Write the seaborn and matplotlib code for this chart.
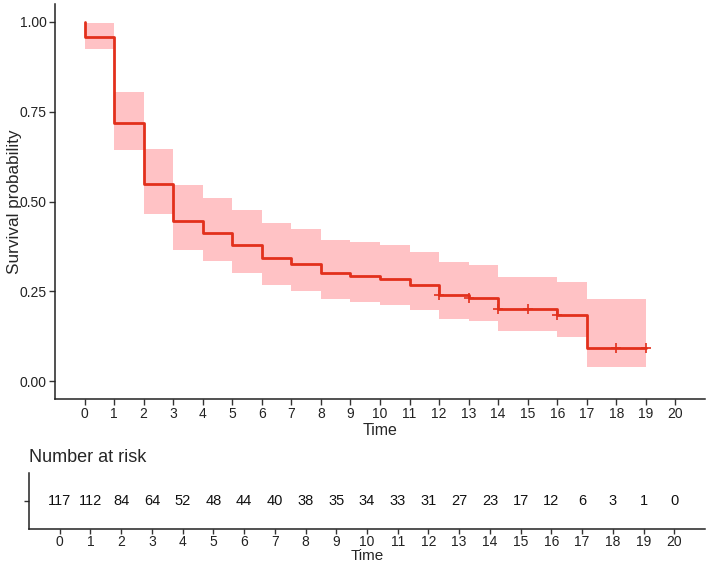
import matplotlib
matplotlib.use("Agg")
import matplotlib.pyplot as plt
import seaborn as sns
import numpy as np
import pandas as pd

# ---- data ----
interval_start = [0, 1, 2, 3, 4, 5, 6, 7, 8, 9, 10, 11, 12, 13, 14, 15, 16, 17, 18, 19]
surv = [0.958, 0.719, 0.550, 0.445, 0.412, 0.379, 0.343, 0.327, 0.301, 0.292,
        0.285, 0.267, 0.241, 0.232, 0.202, 0.202, 0.185, 0.093, 0.093, 0.093]
upper = [0.996, 0.805, 0.645, 0.545, 0.511, 0.476, 0.440, 0.423, 0.394, 0.387,
         0.378, 0.359, 0.331, 0.322, 0.291, 0.291, 0.276, 0.228, 0.228, 0.228]
lower = [0.924, 0.643, 0.466, 0.365, 0.333, 0.300, 0.267, 0.252, 0.229, 0.220,
         0.213, 0.198, 0.174, 0.167, 0.139, 0.139, 0.124, 0.039, 0.039, 0.039]
censor_times = [12, 13, 14, 15, 16, 18, 19]
risk_times = list(range(0, 21))
n_at_risk = [117, 112, 84, 64, 52, 48, 44, 40, 38, 35, 34, 33, 31, 27, 23, 17, 12, 6, 3, 1, 0]

line_color = "#E2301C"
fill_color = "#FFC2C5"

sns.set_style("white")
plt.rcParams["font.family"] = ["Liberation Sans", "DejaVu Sans"]

fig = plt.figure(figsize=(7.08, 5.65), dpi=100)
ax = fig.add_axes([55 / 708, 1 - 399 / 565, 650 / 708, 395 / 565])
ax2 = fig.add_axes([29 / 708, 1 - 529 / 565, 676 / 708, 56 / 565])

# step curve data (start at 1.0 at t=0, then immediate drop)
curve = pd.DataFrame({
    "time": [0] + interval_start,
    "surv": [1.0] + surv,
})
# CI band: extend last interval to its end (19)
band_t = interval_start + [19]
band_lo = lower + [lower[-1]]
band_hi = upper + [upper[-1]]
ax.fill_between(band_t, band_lo, band_hi, step="post", color=fill_color, lw=0)

sns.lineplot(data=curve, x="time", y="surv", drawstyle="steps-post",
             estimator=None, sort=False, color=line_color, lw=2.0, ax=ax)

cens = pd.DataFrame({
    "time": censor_times,
    "surv": [surv[interval_start.index(t)] for t in censor_times],
})
sns.scatterplot(data=cens, x="time", y="surv", marker="+", s=45,
                color=line_color, linewidth=1.2, ax=ax, zorder=5)

ax.set_xlim(-1, 21)
ax.set_ylim(-0.05, 1.05)
ax.set_xticks(range(0, 21))
ax.set_yticks([0, 0.25, 0.5, 0.75, 1.0])
ax.set_yticklabels(["0.00", "0.25", "0.50", "0.75", "1.00"])
ax.set_xlabel("Time", fontsize=11.5, labelpad=1)
ax.set_ylabel("Survival probability", fontsize=12.3, labelpad=-2)
for s in ["top", "right"]:
    ax.spines[s].set_visible(False)
for s in ["left", "bottom"]:
    ax.spines[s].set_color("#222222")
    ax.spines[s].set_linewidth(1.1)
ax.tick_params(axis="both", which="both", direction="out", length=4, width=1,
               color="#333333", labelsize=10, labelcolor="#222222", pad=2,
               bottom=True, left=True)

# ---- risk table ----
risk = pd.DataFrame({"time": risk_times, "n": n_at_risk})
sns.scatterplot(data=risk, x="time", y=np.zeros(len(risk)), alpha=0, ax=ax2)
for t, n in zip(risk_times, n_at_risk):
    ax2.text(t, 0, str(n), ha="center", va="center", fontsize=10.5, color="#111111")
ax2.set_xlim(-1, 21)
ax2.set_ylim(-0.5, 0.5)
ax2.set_xticks(range(0, 21))
ax2.set_yticks([0])
ax2.set_yticklabels([""])
ax2.set_xlabel("Time", fontsize=11, labelpad=0)
ax2.set_ylabel("")
ax2.set_title("Number at risk", loc="left", fontsize=13, pad=8)
for s in ["top", "right"]:
    ax2.spines[s].set_visible(False)
for s in ["left", "bottom"]:
    ax2.spines[s].set_color("#222222")
    ax2.spines[s].set_linewidth(1.1)
ax2.tick_params(axis="both", which="both", direction="out", length=3.5, width=1,
                color="#333333", labelsize=10, labelcolor="#222222", pad=1,
                bottom=True, left=True)

fig.savefig("out.png", dpi=100)
